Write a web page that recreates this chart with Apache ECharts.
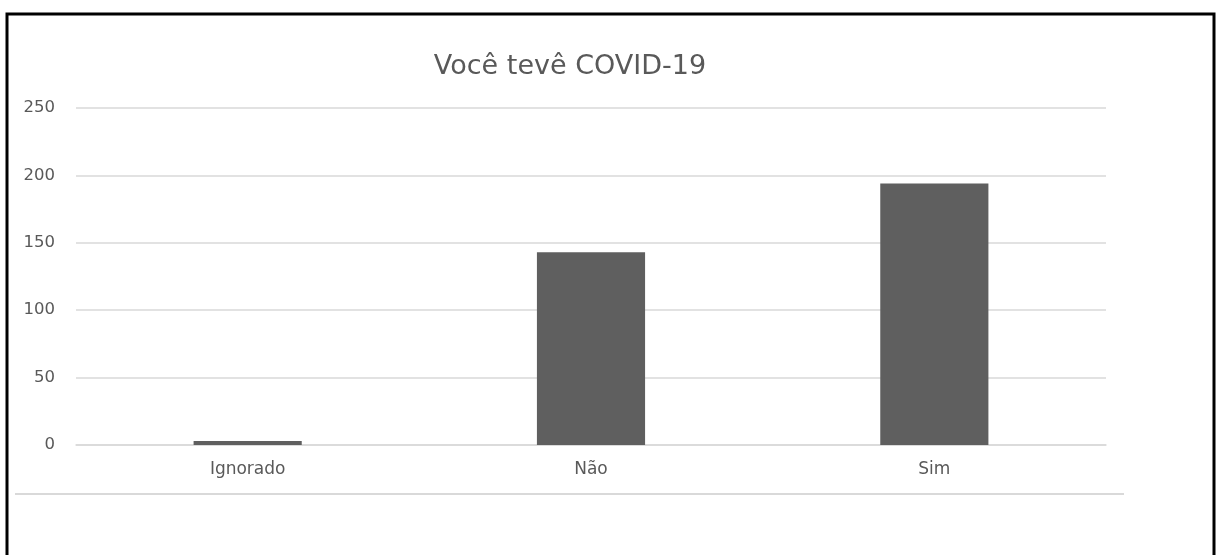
<!DOCTYPE html>
<html>
<head>
<meta charset="utf-8">
<script src="https://cdn.jsdelivr.net/npm/echarts@6/dist/echarts.min.js"></script>
<style>
  html, body { margin: 0; padding: 0; background: #ffffff; }
  #chart { width: 1216px; height: 555px; }
</style>
</head>
<body>
<div id="chart"></div>
<script>
// Survey answers: "Did you have COVID-19?"
const categories = ['Ignorado', 'Não', 'Sim'];
const counts = [3, 143, 194];
const yTicks = { min: 0, max: 250, interval: 50 };
const titleText = 'Você tevê COVID-19';

const textColor = '#595959';
const gridColor = '#d9d9d9';
const barColor = '#5f5f5f';
const fontFamily = '"DejaVu Sans", "Noto Sans", sans-serif';

const chart = echarts.init(document.getElementById('chart'), null, { renderer: 'canvas' });

chart.setOption({
  animation: false,
  backgroundColor: '#ffffff',
  title: {
    text: titleText,
    left: 565,
    textAlign: 'center',
    top: 48,
    textStyle: { color: textColor, fontSize: 27, fontWeight: 'normal', fontFamily: fontFamily }
  },
  grid: { left: 76, right: 110, top: 108, bottom: 110, containLabel: false },
  xAxis: {
    type: 'category',
    data: categories,
    axisLine: { show: true, lineStyle: { color: gridColor, width: 1.5 } },
    axisTick: { show: false },
    axisLabel: { color: textColor, fontSize: 17, fontFamily: fontFamily, margin: 16 }
  },
  yAxis: {
    type: 'value',
    min: yTicks.min,
    max: yTicks.max,
    interval: yTicks.interval,
    axisLine: { show: false },
    axisTick: { show: false },
    axisLabel: { color: textColor, fontSize: 16.5, fontFamily: fontFamily, margin: 21 },
    splitLine: { lineStyle: { color: gridColor, width: 1.5 } }
  },
  series: [{
    type: 'bar',
    data: counts,
    barWidth: '31.5%',
    itemStyle: { color: barColor }
  }],
  graphic: [
    // outer frame of the page region (open at the bottom)
    {
      type: 'polyline',
      shape: { points: [[7, 560], [7, 14], [1214, 14], [1214, 560]] },
      style: { stroke: '#000000', lineWidth: 3, fill: null },
      silent: true
    },
    // lower edge of the chart area
    {
      type: 'line',
      shape: { x1: 15, y1: 494, x2: 1124, y2: 494 },
      style: { stroke: gridColor, lineWidth: 2 },
      silent: true
    }
  ]
});
</script>
</body>
</html>
